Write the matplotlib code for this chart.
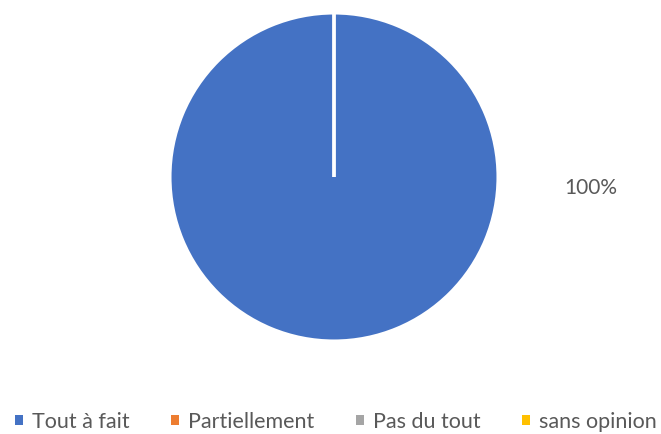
import matplotlib
matplotlib.use("Agg")
import matplotlib.pyplot as plt
from matplotlib.patches import Patch

categories = ["Tout à fait", "Partiellement", "Pas du tout", "sans opinion"]
values = [100, 0, 0, 0]
colors = ["#4472C4", "#ED7D31", "#A5A5A5", "#FFC000"]

plt.rcParams["font.family"] = ["Lato", "DejaVu Sans"]
text_color = "#595959"

fig = plt.figure(figsize=(6.61, 4.34), dpi=100)
ax = fig.add_axes([170 / 661, 93 / 434, 328 / 661, 328 / 434])

wedges, _ = ax.pie(
    values,
    colors=colors,
    startangle=90,
    counterclock=False,
    radius=1,
    wedgeprops={"edgecolor": "white", "linewidth": 2.2},
)
ax.set_xlim(-1, 1)
ax.set_ylim(-1, 1)
ax.set_aspect("equal")
ax.axis("off")

total = sum(values)
ax.text(1.567, -0.067, f"{values[0] / total:.0%}", ha="center", va="center",
        fontsize=15, color=text_color)

# legend squares without the white wedge border
handles = [Patch(facecolor=c, edgecolor="none") for c in colors]
fig.legend(
    handles, categories,
    loc="center", bbox_to_anchor=(0.508, 0.028),
    ncol=4, frameon=False, fontsize=15.5,
    handlelength=0.37, handleheight=0.37, handletextpad=0.4,
    columnspacing=1.95, labelcolor=text_color,
)

fig.savefig("out.png", dpi=100)
